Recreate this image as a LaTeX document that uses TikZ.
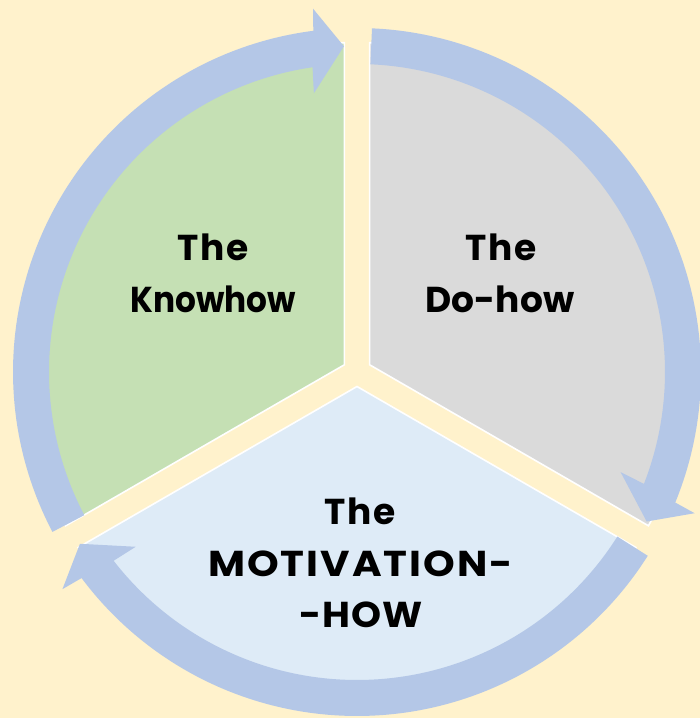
\documentclass[tikz,border=0pt]{standalone}
\usepackage{fontspec}
\newfontfamily\labelfont{Poppins}
\definecolor{bgyellow}{HTML}{FFF2CC}
\definecolor{ringblue}{HTML}{B4C7E7}
\definecolor{secgreen}{HTML}{C5E0B4}
\definecolor{secgray}{HTML}{DADADA}
\definecolor{secblue}{HTML}{DEEBF7}
\tikzset{
  sector/.style={draw=white, line width=1.6pt, line join=miter},
  ringarrow/.style={fill=ringblue, draw=none},
  lbl/.style={anchor=base, inner sep=0pt, font=\labelfont\bfseries\fontsize{36}{44}\selectfont, text=black}
}
\begin{document}
\begin{tikzpicture}[x=1pt,y=1pt]
\useasboundingbox (0,0) rectangle (700,718);
\fill[bgyellow] (0,0) rectangle (700,718);
\clip (0,0) rectangle (700,718);
\coordinate (C) at (357,346);
% sectors (exploded pie)
\begin{scope}[shift={(C)}]
  \coordinate (Sg) at (150:14.5);
  \coordinate (Sd) at (30:14.5);
  \coordinate (Sb) at (270:14.5);
  \fill[secgreen] (Sg) -- ++(90:322) arc[start angle=90, end angle=210, radius=322] -- cycle;
  \draw[sector] (Sg) -- ++(90:322) arc[start angle=90, end angle=210, radius=322] -- cycle;
  \fill[secgray] (Sd) -- ++(-30:322) arc[start angle=-30, end angle=90, radius=322] -- cycle;
  \draw[sector] (Sd) -- ++(-30:322) arc[start angle=-30, end angle=90, radius=322] -- cycle;
  \fill[secblue] (Sb) -- ++(210:322) arc[start angle=210, end angle=330, radius=322] -- cycle;
  \draw[sector] (Sb) -- ++(210:322) arc[start angle=210, end angle=330, radius=322] -- cycle;
  % ring arrows
  \fill[ringarrow] (207.7:344) arc[start angle=207.7, end angle=97.3, radius=344]
     -- (96.9:366) -- (92.3:326) -- (98.8:282) -- (98.3:308)
     arc[start angle=98.3, end angle=207.7, radius=308] -- cycle;
  \fill[ringarrow] (87.5:344) arc[start angle=87.5, end angle=-22.3, radius=344]
     -- (-22.7:366) -- (-27.3:326) -- (-20.8:282) -- (-21.3:308)
     arc[start angle=-21.3, end angle=87.5, radius=308] -- cycle;
  \fill[ringarrow] (-32.3:344) arc[start angle=-32.3, end angle=-143.2, radius=344]
     -- (-143.6:366) -- (-148.2:326) -- (-141.7:282) -- (-142.2:308)
     arc[start angle=-142.2, end angle=-32.3, radius=308] -- cycle;
\end{scope}
% labels
\node[lbl] (k1) at (213,457.5) {\addfontfeatures{LetterSpace=5}The};
\node[lbl, xscale=0.91] (k2) at (213.5,405) {Knowhow};
\node[lbl] (d1) at (501,457.5) {\addfontfeatures{LetterSpace=5}The};
\node[lbl] (d2) at (500,405) {Do-how};
\node[lbl] (m1) at (360,193) {\addfontfeatures{LetterSpace=5}The};
\node[lbl, xscale=1.12] (m2) at (360.5,141) {\addfontfeatures{LetterSpace=5}MOTIVATION-};
\node[lbl, xscale=1.06] (m3) at (361,90) {\addfontfeatures{LetterSpace=3}-HOW};
\end{tikzpicture}
\end{document}
